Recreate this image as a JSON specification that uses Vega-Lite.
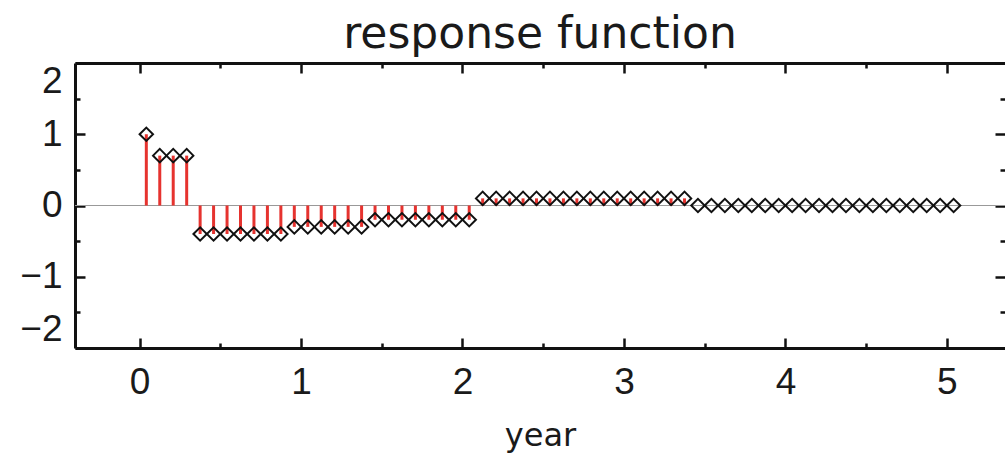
{
  "$schema": "https://vega.github.io/schema/vega-lite/v6.json",
  "width": 930,
  "height": 285,
  "autosize": {"type": "none"},
  "padding": {"left": 75, "top": 63, "right": 0, "bottom": 107},
  "background": "white",
  "title": {"text": "response function", "font": "DejaVu Sans", "fontSize": 44, "fontWeight": "normal", "color": "#1a1a1a", "baseline": "alphabetic", "offset": -30, "anchor": "middle"},
  "config": {
    "view": {"stroke": null},
    "axis": {"grid": false, "domainColor": "#111111", "domainWidth": 3, "tickColor": "#111111", "tickWidth": 2.5, "labelFont": "Liberation Sans", "labelFontSize": 37, "labelColor": "#1a1a1a", "titleFont": "DejaVu Sans", "titleFontSize": 32, "titleFontWeight": "normal", "titleColor": "#1a1a1a"}
  },
  "data": {"values": [
    {"t": 0.0417, "v": 1.0}, {"t": 0.125, "v": 0.7}, {"t": 0.2083, "v": 0.7}, {"t": 0.2917, "v": 0.7},
    {"t": 0.375, "v": -0.4}, {"t": 0.4583, "v": -0.4}, {"t": 0.5417, "v": -0.4}, {"t": 0.625, "v": -0.4}, {"t": 0.7083, "v": -0.4}, {"t": 0.7917, "v": -0.4}, {"t": 0.875, "v": -0.4},
    {"t": 0.9583, "v": -0.3}, {"t": 1.0417, "v": -0.3}, {"t": 1.125, "v": -0.3}, {"t": 1.2083, "v": -0.3}, {"t": 1.2917, "v": -0.3}, {"t": 1.375, "v": -0.3},
    {"t": 1.4583, "v": -0.2}, {"t": 1.5417, "v": -0.2}, {"t": 1.625, "v": -0.2}, {"t": 1.7083, "v": -0.2}, {"t": 1.7917, "v": -0.2}, {"t": 1.875, "v": -0.2}, {"t": 1.9583, "v": -0.2}, {"t": 2.0417, "v": -0.2},
    {"t": 2.125, "v": 0.1}, {"t": 2.2083, "v": 0.1}, {"t": 2.2917, "v": 0.1}, {"t": 2.375, "v": 0.1}, {"t": 2.4583, "v": 0.1}, {"t": 2.5417, "v": 0.1}, {"t": 2.625, "v": 0.1}, {"t": 2.7083, "v": 0.1},
    {"t": 2.7917, "v": 0.1}, {"t": 2.875, "v": 0.1}, {"t": 2.9583, "v": 0.1}, {"t": 3.0417, "v": 0.1}, {"t": 3.125, "v": 0.1}, {"t": 3.2083, "v": 0.1}, {"t": 3.2917, "v": 0.1}, {"t": 3.375, "v": 0.1},
    {"t": 3.4583, "v": 0}, {"t": 3.5417, "v": 0}, {"t": 3.625, "v": 0}, {"t": 3.7083, "v": 0}, {"t": 3.7917, "v": 0}, {"t": 3.875, "v": 0}, {"t": 3.9583, "v": 0}, {"t": 4.0417, "v": 0}, {"t": 4.125, "v": 0}, {"t": 4.2083, "v": 0},
    {"t": 4.2917, "v": 0}, {"t": 4.375, "v": 0}, {"t": 4.4583, "v": 0}, {"t": 4.5417, "v": 0}, {"t": 4.625, "v": 0}, {"t": 4.7083, "v": 0}, {"t": 4.7917, "v": 0}, {"t": 4.875, "v": 0}, {"t": 4.9583, "v": 0}, {"t": 5.0417, "v": 0}
  ]},
  "layer": [
    {
      "data": {"values": [{"z": 0}]},
      "mark": {"type": "rule", "color": "#999999", "strokeWidth": 1.2},
      "encoding": {
        "y": {"field": "z", "type": "quantitative", "axis": null}
      }
    },
    {
      "mark": {"type": "rule", "color": "#e6332f", "strokeWidth": 3},
      "encoding": {
        "x": {"field": "t", "type": "quantitative", "scale": {"domain": [-0.4, 5.36], "nice": false, "zero": false},
          "axis": {"orient": "bottom", "values": [0, 0.5, 1, 1.5, 2, 2.5, 3, 3.5, 4, 4.5, 5], "labelExpr": "datum.value % 1 === 0 ? format(datum.value, 'd') : ''",
            "tickSize": {"condition": {"test": "datum.value % 1 !== 0", "value": -5}, "value": -10},
            "labelFlush": false, "labelPadding": 26, "labelBaseline": "top", "title": "year", "titlePadding": 20}},
        "y": {"field": "v", "type": "quantitative", "scale": {"domain": [-2, 2], "nice": false, "zero": false},
          "axis": {"orient": "left", "values": [-2, -1.5, -1, -0.5, 0, 0.5, 1, 1.5, 2], "labelExpr": "datum.value % 1 === 0 ? format(datum.value, 'd') : ''",
            "tickSize": {"condition": {"test": "datum.value % 1 !== 0", "value": -5}, "value": -10},
            "labelFlush": true, "labelPadding": 23, "title": null}},
        "y2": {"datum": 0}
      }
    },
    {
      "mark": {"type": "point", "shape": "diamond", "size": 180, "filled": false, "stroke": "#111111", "strokeWidth": 2, "opacity": 1},
      "encoding": {
        "x": {"field": "t", "type": "quantitative",
          "axis": {"orient": "top", "values": [0, 0.5, 1, 1.5, 2, 2.5, 3, 3.5, 4, 4.5, 5], "labels": false, "title": null,
            "tickSize": {"condition": {"test": "datum.value % 1 !== 0", "value": -5}, "value": -10}}},
        "y": {"field": "v", "type": "quantitative",
          "axis": {"orient": "right", "values": [-2, -1.5, -1, -0.5, 0, 0.5, 1, 1.5, 2], "labels": false, "title": null, "domain": false,
            "tickSize": {"condition": {"test": "datum.value % 1 !== 0", "value": -5}, "value": -10}}}
      }
    }
  ],
  "resolve": {"axis": {"x": "independent", "y": "independent"}}
}
